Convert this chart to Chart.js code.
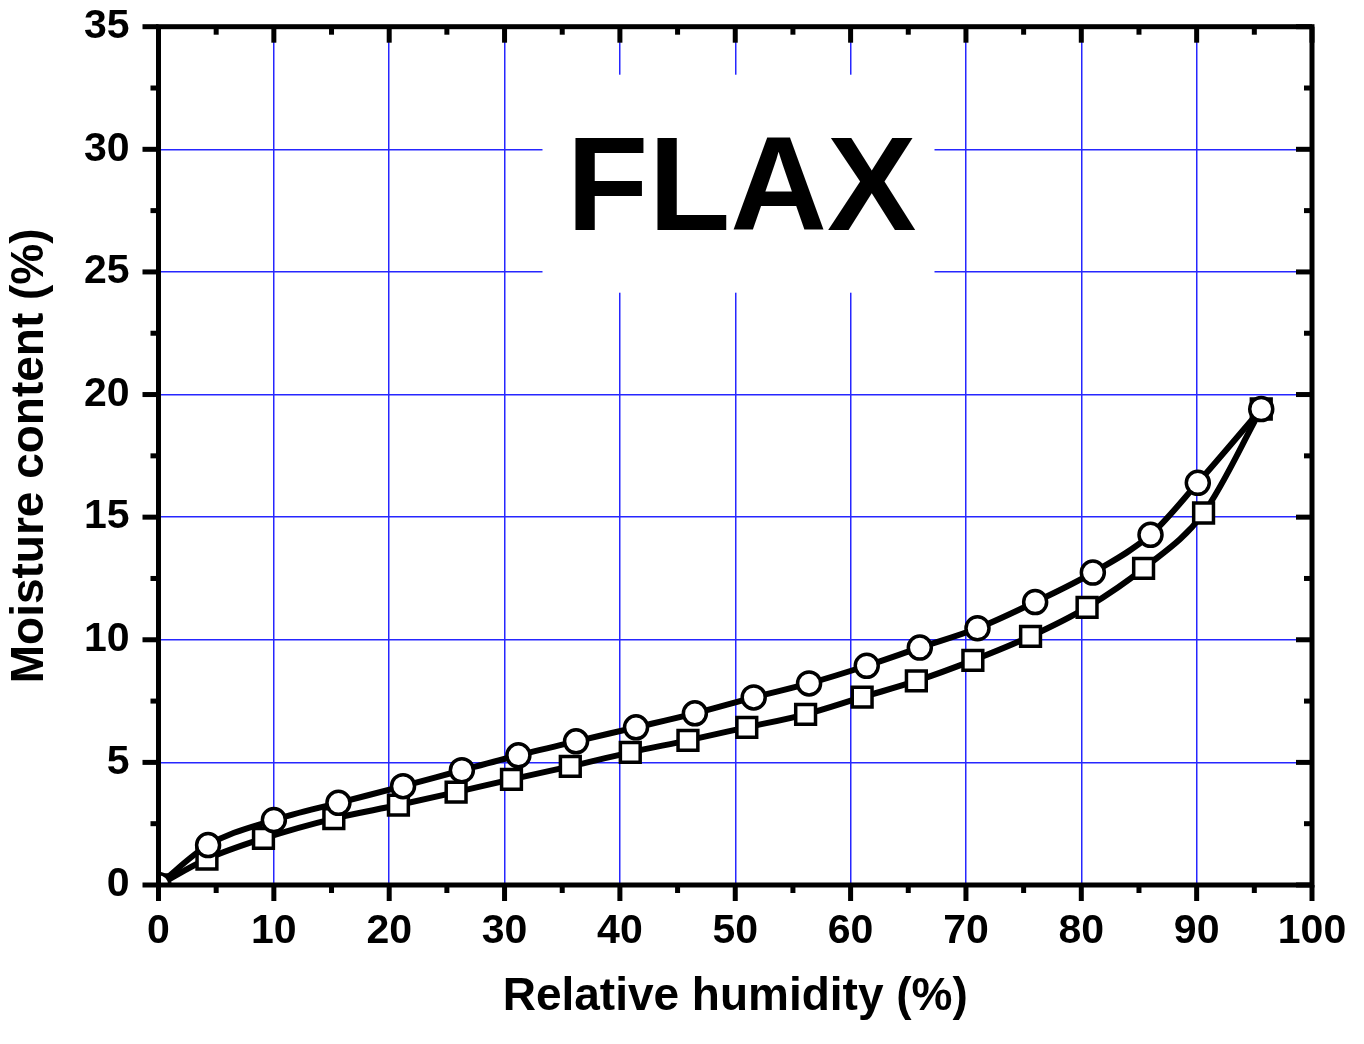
<!DOCTYPE html>
<html lang="en">
<head>
  <meta charset="UTF-8">
  <title>FLAX sorption isotherm</title>
  <script src="https://cdn.jsdelivr.net/npm/chart.js"></script>
  <style>
    body { margin: 0; background: #fff; }
    canvas { display: block; }
  </style>
</head>
<body>
  <canvas id="flax-chart" width="1364" height="1044"></canvas>

  <script>
    // tick labels
    const xTickValues = [0, 10, 20, 30, 40, 50, 60, 70, 80, 90, 100];
    const yTickValues = [0, 5, 10, 15, 20, 25, 30, 35];

    // upper curve (circles)
    const circleRH = [0, 4.3, 10.0, 15.6, 21.2, 26.3, 31.2, 36.2, 41.4, 46.5, 51.6, 56.4, 61.4, 66.0, 71.0, 76.0, 81.0, 86.0, 90.1, 95.6];
    const circleMC = [0, 1.63, 2.65, 3.35, 4.03, 4.68, 5.29, 5.86, 6.43, 7.0, 7.65, 8.22, 8.94, 9.68, 10.47, 11.54, 12.74, 14.28, 16.4, 19.41];

    // lower curve (squares)
    const squareRH = [0, 4.2, 9.1, 15.2, 20.8, 25.8, 30.6, 35.7, 40.9, 45.9, 51.0, 56.1, 61.0, 65.7, 70.6, 75.6, 80.5, 85.4, 90.6, 95.6];
    const squareMC = [0, 1.06, 1.9, 2.71, 3.26, 3.79, 4.31, 4.84, 5.41, 5.9, 6.43, 6.96, 7.66, 8.32, 9.16, 10.14, 11.32, 12.91, 15.17, 19.41];

    const FONT = '"Liberation Sans", Arial, Helvetica, sans-serif';

    const toPoints = (xs, ys) => xs.map((x, i) => ({ x: x, y: ys[i] }));

    // white label box + frame with in/out ticks, like the Origin plot
    const framePlugin = {
      id: 'frame',
      beforeDatasetsDraw(chart) {
        const { ctx, chartArea } = chart;
        ctx.save();
        ctx.fillStyle = '#fff';
        ctx.fillRect(chartArea.left + 384, chartArea.top + 48, 392, 218);
        ctx.fillStyle = '#000';
        ctx.font = 'bold 134px ' + FONT;
        ctx.textAlign = 'center';
        ctx.textBaseline = 'alphabetic';
        ctx.fillText('FLAX', chartArea.left + 583, chartArea.top + 203);
        ctx.restore();
      },
      afterDatasetsDraw(chart) {
        const { ctx, chartArea: a, scales } = chart;
        const xs = scales.x, ys = scales.y;
        ctx.save();
        ctx.fillStyle = '#000';

        const major = 16, minor = 8, w = 5;
        const xt = xs.ticks.map(t => t.value);
        const yt = ys.ticks.map(t => t.value);

        xt.forEach((v, i) => {
          const px = xs.getPixelForValue(v);
          ctx.fillRect(px - w / 2, a.bottom, w, major);
          ctx.fillRect(px - w / 2, a.top, w, major);
          if (i < xt.length - 1) {
            const pm = xs.getPixelForValue((v + xt[i + 1]) / 2);
            ctx.fillRect(pm - w / 2, a.bottom, w, minor);
            ctx.fillRect(pm - w / 2, a.top, w, minor);
          }
        });

        yt.forEach((v, i) => {
          const py = ys.getPixelForValue(v);
          ctx.fillRect(a.left - major, py - w / 2, major, w);
          ctx.fillRect(a.right - major, py - w / 2, major, w);
          if (i < yt.length - 1) {
            const pm = ys.getPixelForValue((v + yt[i + 1]) / 2);
            ctx.fillRect(a.left - minor, pm - w / 2, minor, w);
            ctx.fillRect(a.right - minor, pm - w / 2, minor, w);
          }
        });

        ctx.strokeStyle = '#000';
        ctx.lineWidth = w;
        ctx.strokeRect(a.left, a.top, a.right - a.left, a.bottom - a.top);
        ctx.restore();
      }
    };

    const ctx = document.getElementById('flax-chart').getContext('2d');

    new Chart(ctx, {
      type: 'line',
      data: {
        datasets: [
          {
            label: 'circles',
            data: toPoints(circleRH, circleMC),
            borderColor: '#000',
            borderWidth: 6,
            pointStyle: 'circle',
            pointRadius: 11.5,
            pointBorderWidth: 3.5,
            pointBackgroundColor: '#fff',
            pointBorderColor: '#000',
            cubicInterpolationMode: 'monotone',
            clip: 0
          },
          {
            label: 'squares',
            data: toPoints(squareRH, squareMC),
            borderColor: '#000',
            borderWidth: 6,
            pointStyle: 'rect',
            pointRadius: 14,
            pointBorderWidth: 3.5,
            pointBackgroundColor: '#fff',
            pointBorderColor: '#000',
            cubicInterpolationMode: 'monotone',
            clip: 0
          }
        ]
      },
      options: {
        responsive: false,
        animation: false,
        events: [],
        layout: { padding: { top: 26.7, right: 52, left: 0, bottom: 0 } },
        plugins: {
          legend: { display: false },
          tooltip: { enabled: false }
        },
        scales: {
          x: {
            type: 'linear',
            min: 0,
            max: 100,
            afterBuildTicks: s => { s.ticks = xTickValues.map(v => ({ value: v })); },
            afterFit: s => { s.height = 159; s.paddingLeft = 0; s.paddingRight = 0; },
            grid: { color: '#2626ff', lineWidth: 1.5, drawTicks: false },
            border: { display: false },
            ticks: {
              color: '#000',
              padding: 22,
              maxRotation: 0,
              font: { family: FONT, size: 41, weight: 'bold' }
            },
            title: {
              display: true,
              text: 'Relative humidity (%)',
              color: '#000',
              padding: { top: 0, bottom: 19 },
              font: { family: FONT, size: 46, weight: 'bold' }
            }
          },
          y: {
            type: 'linear',
            min: 0,
            max: 35,
            afterBuildTicks: s => { s.ticks = yTickValues.map(v => ({ value: v })); },
            afterFit: s => { s.width = 158.5; s.paddingTop = 0; s.paddingBottom = 0; },
            grid: { color: '#2626ff', lineWidth: 1.5, drawTicks: false },
            border: { display: false },
            ticks: {
              color: '#000',
              padding: 29,
              font: { family: FONT, size: 41, weight: 'bold', lineHeight: 1 }
            },
            title: {
              display: true,
              text: 'Moisture content (%)',
              color: '#000',
              padding: { top: 3, bottom: 0 },
              font: { family: FONT, size: 46, weight: 'bold' }
            }
          }
        }
      },
      plugins: [framePlugin]
    });
  </script>
</body>
</html>
